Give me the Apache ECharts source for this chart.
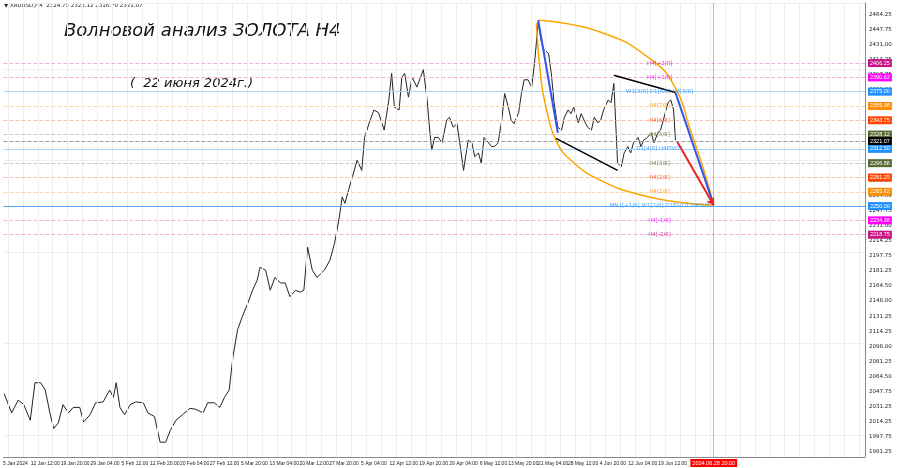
<!DOCTYPE html>
<html><head><meta charset="utf-8">
<script src="https://cdn.jsdelivr.net/npm/echarts@6/dist/echarts.min.js"></script>
<style>html,body{margin:0;padding:0;background:#fff}#c{width:900px;height:468px}</style>
</head><body><div id="c"></div>
<script>
// H4 bar index of each sampled point, and its price
const bars = [-12,-4,3,9,16,21,27,32,37,41,46,51,57,62,69,73,80,86,94,101,105,108,112,117,123,129,137,142,149,155,161,166,172,179,187,193,201,206,213,219,224,229,233,238,243,249,254,259,262,268,273,278,284,289,294,300,305,309,313,318,323,331,337,342,347,350,353,357,361,366,371,374,379,384,389,395,400,403,406,411,414,417,421,425,430,433,437,441,444,446,449,453,457,462,465,469,473,476,480,485,489,492,496,499,502,507,510,513,517,521,524,528,531,534,539,542,545,549,553,556,560,563,566,571,574,577,581,585,588,592,595,598,603,606,609,613,617,620,624,627,630,635,638,641,645,649,652,656,659,662,667,670,673,677,681,684,688,691,694,699,702,705,707];
const closes = [2045,2024,2038,2033,2016,2057,2057,2049,2024,2007,2013,2033,2024,2030,2030,2014,2022,2035,2036,2049,2041,2057,2030,2022,2033,2036,2035,2024,2020,1992,1992,2005,2016,2022,2029,2028,2024,2035,2035,2030,2041,2049,2085,2115,2129,2144,2158,2169,2183,2180,2158,2172,2166,2166,2151,2158,2156,2158,2205,2180,2172,2180,2191,2210,2238,2260,2253,2268,2282,2300,2289,2325,2341,2355,2352,2333,2366,2395,2358,2355,2391,2395,2369,2391,2380,2388,2399,2366,2330,2311,2325,2325,2319,2344,2347,2336,2340,2319,2289,2322,2319,2304,2308,2297,2325,2319,2315,2315,2319,2344,2373,2358,2344,2340,2352,2373,2388,2388,2380,2406,2451,2431,2421,2417,2395,2363,2336,2333,2347,2355,2351,2358,2341,2351,2344,2336,2333,2347,2341,2344,2355,2366,2363,2384,2297,2293,2308,2315,2308,2319,2325,2315,2322,2325,2330,2319,2330,2333,2344,2363,2366,2355,2322];
const xTickBars = [0,32,64,96,128,160,192,224,256,288,320,352,384,416,448,480,512,544,576,608,640,672,704];
const xTickLabels = ['5 Jan 2024','12 Jan 12:00','19 Jan 20:00','29 Jan 04:00','5 Feb 12:00','12 Feb 20:00','20 Feb 04:00','27 Feb 12:00','5 Mar 20:00','13 Mar 04:00','20 Mar 12:00','27 Mar 20:00','5 Apr 04:00','12 Apr 12:00','19 Apr 20:00','29 Apr 04:00','6 May 12:00','13 May 20:00','21 May 04:00','28 May 12:00','4 Jun 20:00','12 Jun 04:00','19 Jun 12:00'];
const xGridBars = [-8,8,24,40,56,72,88,104,120,136,152,168,184,200,216,232,248,264,280,296,312,328,344,360,376,392,408,424,440,456,472,488,504,520,536,552,568,584,600,616,632,648,664,680,696,712,728,744,760,776,792,808,824,840,856,872,888,904];
const yTicks = [1981.25,1997.75,2014.25,2030.75,2047.25,2063.75,2080.25,2096.75,2113.25,2129.75,2146.25,2162.75,2179.25,2195.75,2212.25,2228.75,2245.25,2261.75,2278.25,2294.75,2311.25,2327.75,2344.25,2360.75,2377.25,2393.75,2410.25,2426.75,2443.25,2459.75];
const yTickText = ['1981.25','1997.75','2014.25','2031.25','2047.75','2064.50','2081.25','2098.00','2114.25','2131.25','2148.00','2164.50','2181.25','2197.75','2214.25','2231.00','2247.75','2264.50','2281.25','2297.75','2314.00','2331.00','2347.75','2364.50','2381.00','2397.75','2414.25','2431.00','2447.75','2464.25'];
const levelPrices = [2406.25,2390.62,2375.00,2359.38,2343.75,2328.12,2312.50,2296.88,2281.25,2265.62,2250.00,2234.38,2218.75];
const levelNames = ['H4[+2/8]','H4[+1/8]','W1[3/8] D1[6/8] H4[8/8]','H4[7/8]','H4[6/8]','H4[5/8]','D1[4/8] H4PIVOT','H4[3/8]','H4[2/8]','H4[1/8]','MN1[+1/8] W1[2/8] D1PIVOT H4SUP','H4[-1/8]','H4[-2/8]'];
const levelColors = ['#c71585','#ff00ff','#1e90ff','#ff8c00','#ff4500','#556b2f','#1e90ff','#556b2f','#ff4500','#ff8c00','#1e90ff','#ff00ff','#c71585'];
const levelLine = ['#f0b0e0','#f0b0e0','#a8d4f8','#fcd8a8','#f8c0b0','#c8c8c8','#a8d4f8','#c8c8c8','#f8c0b0','#fcd8a8','#5aa8f0','#f0b0e0','#f0b0e0'];
const lastPrice = 2321.07;
const arcUpper = [[560,2453],[627,2440],[681,2410],[707,2379],[723,2333],[739,2284],[748,2251]];
const arcLower = [[558,2450],[563,2388],[569,2355],[579,2322],[595,2300],[627,2278],[670,2262],[713,2254],[748,2251]];
const blackLow = [[579,2324],[645,2289]];
const blackHigh = [[641,2393],[707,2374]];
const blueA = [[560,2453],[581,2330]];
const blueB = [[707,2374],[748,2251]];
const redArrow = [[709,2320],[748,2251]];
const futureBar = 748;
const labelBar = 690;

const chart = echarts.init(document.getElementById('c'));
const seg = (d,c,w,extra)=>Object.assign({type:'line',data:d,symbol:'none',silent:true,lineStyle:{color:c,width:w},z:5},extra||{});
chart.setOption({
  animation:false,
  grid:{left:2,right:35,top:3,bottom:11},
  xAxis:{type:'value',min:-12.8,max:910,
    axisLine:{show:true,onZero:false,lineStyle:{color:'#888'}},
    axisTick:{show:false},
    splitLine:{show:false},
    axisLabel:{customValues:xTickBars,formatter:v=>xTickLabels[xTickBars.indexOf(v)]||'',fontSize:5,color:'#222',margin:4,fontFamily:'Liberation Sans',hideOverlap:false}},
  yAxis:{type:'value',position:'right',min:1975.8,max:2471.9,
    axisLine:{show:true,onZero:false,lineStyle:{color:'#888'}},
    axisTick:{show:false},
    splitLine:{show:true,lineStyle:{color:'#eeeeee'}},
    axisLabel:{customValues:yTicks,formatter:v=>yTickText[yTicks.indexOf(v)]||'',fontSize:5.5,color:'#222',margin:4,fontFamily:'DejaVu Sans'}},
  series:[
    {type:'line',data:bars.map((b,i)=>[b,closes[i]]),symbol:'none',lineStyle:{color:'#222',width:1},z:4,
     markLine:{silent:true,symbol:'none',data:[
       ...xGridBars.map(b=>({xAxis:b,lineStyle:{color:'#eeeeee',type:'solid',width:1},label:{show:false}})),
       ...levelPrices.map((p,i)=>({yAxis:p,lineStyle:{color:levelLine[i],type:(i===2||i===6||i===10)?'solid':'dashed',width:1},
          label:{show:true,position:'end',formatter:p.toFixed(2),backgroundColor:levelColors[i],color:'#fff',fontSize:5.5,padding:[1,2],distance:3,textBorderWidth:0}})),
       {yAxis:lastPrice,lineStyle:{color:'#999',type:'dashed',width:1},label:{show:true,position:'end',formatter:lastPrice.toFixed(2),backgroundColor:'#000',color:'#fff',fontSize:5.5,padding:[1,2],distance:3,textBorderWidth:0}},
       {xAxis:futureBar,lineStyle:{color:'#f4a0a0',type:'solid',width:1},label:{show:true,position:'start',formatter:'2024.06.28 20:00',backgroundColor:'#ff0000',color:'#fff',fontSize:5.5,padding:[1,2],distance:2,textBorderWidth:0}}
     ]}},
    {type:'scatter',data:levelPrices.map((p,i)=>({value:[labelBar,p],label:{color:levelColors[i]}})),symbolSize:0,silent:true,z:6,
     label:{show:true,position:'inside',formatter:o=>levelNames[o.dataIndex],fontSize:5.5,fontFamily:'DejaVu Sans',textBorderWidth:0,textBorderColor:'transparent'}},
    seg(arcUpper,'#ffa500',1.5,{smooth:0.5}),
    seg(arcLower,'#ffa500',1.5,{smooth:0.5}),
    seg(blackLow,'#000',1.5),
    seg(blackHigh,'#000',1.5),
    seg(blueA,'#3355ee',2),
    seg(blueB,'#3355ee',2),
    {type:'lines',coordinateSystem:'cartesian2d',silent:true,z:6,
     data:[{coords:redArrow}],symbol:['none','arrow'],symbolSize:7,lineStyle:{color:'#ee2222',width:2,opacity:1}}
  ],
  graphic:[
    {type:'text',left:4,top:3,style:{text:'▼ XAUUSD,H4  2324.75 2325.12 2316.70 2321.07',fontSize:5.5,fill:'#222',fontFamily:'DejaVu Sans'}},
    {type:'text',left:64,top:22,style:{text:'Волновой анализ ЗОЛОТА Н4',fontSize:18,fontStyle:'italic',fill:'#111',fontFamily:'DejaVu Sans'}},
    {type:'text',left:130,top:77,style:{text:'(  22 июня 2024г.)',fontSize:13,fontStyle:'italic',fill:'#111',fontFamily:'DejaVu Sans'}}
  ]
});
</script></body></html>
